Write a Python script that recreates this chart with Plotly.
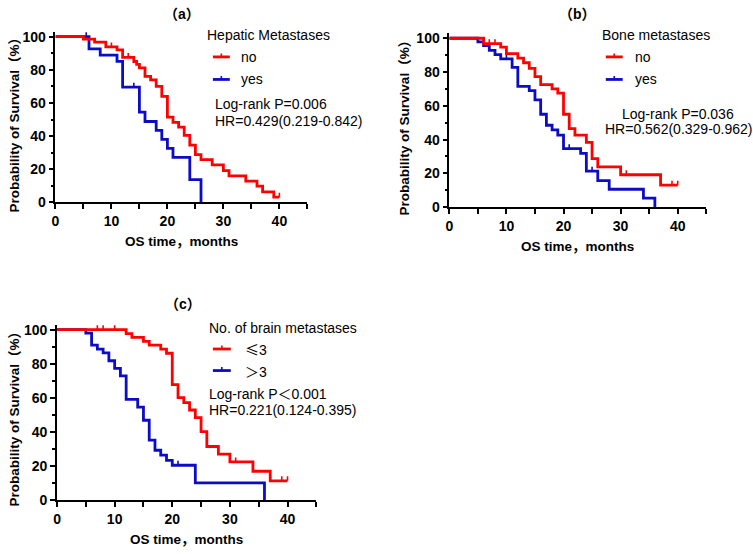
import plotly.graph_objects as go

# ---------------- data ----------------
# Panel (a) Hepatic metastases
a_no_t = [0, 5, 7, 9, 11, 12, 14, 14.5, 15, 16, 17, 18, 19, 20, 21, 22, 23, 24, 25, 26, 28, 30, 31, 34, 36, 37, 39, 40]
a_no_s = [100, 98.5, 96.7, 93.8, 92, 87.5, 85, 83.2, 81.2, 76, 73.9, 70, 64, 51.5, 48.3, 45.4, 40.4, 34.6, 28.8, 25.8, 22.7, 19.2, 16, 12.9, 9.8, 6.4, 3.2, 3.2]
a_no_cens_t = [10, 13, 40]
a_no_cens_s = [93.8, 87.5, 3.2]
a_yes_t = [0, 6, 8, 11, 12, 15, 16, 18, 19, 20, 21, 24, 26]
a_yes_s = [100, 92.6, 88.8, 85.1, 69.5, 54.5, 48.8, 43.4, 38, 32.6, 27.2, 13.8, 0]
a_yes_cens_t = [5.5, 14]
a_yes_cens_s = [100, 69.5]

# Panel (b) Bone metastases
b_no_t = [0, 6, 9, 10, 12, 13, 14, 15, 16, 18, 19, 20, 21, 22, 24, 25, 26, 30, 37, 40]
b_no_s = [100, 96.8, 94.8, 90.9, 88.2, 85.5, 82.2, 77.3, 72.5, 70, 67.5, 55, 46.5, 42.6, 38.3, 28.7, 23.9, 19.2, 13, 13]
b_no_cens_t = [7, 8, 31, 39, 40]
b_no_cens_s = [96.8, 96.8, 19.2, 13, 13]
b_yes_t = [0, 5, 6, 7, 8, 9, 11, 12, 14, 15, 16, 17, 18, 19, 20, 23, 24, 26, 28, 34, 36]
b_yes_s = [100, 97.8, 95.6, 92.8, 90.3, 87.8, 82.8, 71.5, 69, 63.5, 55, 48.5, 45.8, 42.6, 34.6, 31.8, 21.3, 15.7, 10.6, 5.3, 0]
b_yes_cens_t = [10, 21, 25]
b_yes_cens_s = [87.8, 34.6, 21.3]

# Panel (c) Number of brain metastases
c_le3_t = [0, 12, 13, 15, 16, 18, 19, 20, 21, 22, 23, 24, 25, 26, 28, 30, 34, 37, 40]
c_le3_s = [100, 97.7, 95.5, 93.2, 90.9, 88.6, 86.2, 67.8, 60.2, 57.2, 52.9, 48.4, 40.2, 31.5, 27, 22.5, 17, 11.4, 11.4]
c_le3_cens_t = [7, 8, 10, 31, 39, 40]
c_le3_cens_s = [100, 100, 100, 22.5, 11.4, 11.4]
c_gt3_t = [0, 5, 6, 7, 8, 9, 10, 11, 12, 14, 15, 16, 17, 18, 19, 20, 24, 36]
c_gt3_s = [100, 98, 90.9, 88.6, 86.4, 81.8, 77.3, 72.9, 59.2, 54.6, 46.9, 35.2, 29.3, 26.4, 23.4, 20.5, 10.2, 0]
c_gt3_cens_t = [21]
c_gt3_cens_s = [20.5]

x_ticks = [0, 10, 20, 30, 40]
y_ticks = [0, 20, 40, 60, 80, 100]

CJK = "<span style='font-family:Noto Sans CJK SC'>{}</span>"
panel_titles = [CJK.format("（") + "a" + CJK.format("）"),
                CJK.format("（") + "b" + CJK.format("）"),
                CJK.format("（") + "c" + CJK.format("）")]
legend_titles = ["Hepatic Metastases", "Bone metastases", "No. of brain metastases"]
group_labels = [["no", "yes"], ["no", "yes"], [CJK.format("≤") + "3", CJK.format("＞") + "3"]]
stat_lines = [["Log-rank P=0.006", "HR=0.429(0.219-0.842)"],
              ["Log-rank P=0.036", "HR=0.562(0.329-0.962)"],
              ["Log-rank P" + CJK.format("＜") + "0.001", "HR=0.221(0.124-0.395)"]]
x_title = "OS time" + CJK.format("，") + "months"
y_title = "Probability of Survival" + CJK.format("（") + "%" + CJK.format("）")

RED = "#ff0000"
BLUE = "#0c0cc4"
FONT = "Liberation Sans, Arial, Noto Sans CJK SC, sans-serif"
W, H = 753, 554


def px(x):
    return x / W


def py(y):
    return 1 - y / H


fig = go.Figure()

panels = [
    (a_no_t, a_no_s, a_no_cens_t, a_no_cens_s, a_yes_t, a_yes_s, a_yes_cens_t, a_yes_cens_s),
    (b_no_t, b_no_s, b_no_cens_t, b_no_cens_s, b_yes_t, b_yes_s, b_yes_cens_t, b_yes_cens_s),
    (c_le3_t, c_le3_s, c_le3_cens_t, c_le3_cens_s, c_gt3_t, c_gt3_s, c_gt3_cens_t, c_gt3_cens_s),
]

# pixel geometry: (x0 px, x45 px, y0 px, y103 px)
geom = [
    (51.7, 305.0, 203.5, 29.2),
    (447.7, 706.0, 208.3, 30.8),
    (53.3, 314.0, 507.3, 328.1),
]

for i, (p, g) in enumerate(zip(panels, geom)):
    xa = "x" if i == 0 else f"x{i+1}"
    ya = "y" if i == 0 else f"y{i+1}"
    t1, s1, ct1, cs1, t2, s2, ct2, cs2 = p
    for t, s, ct, cs, col in [(t2, s2, ct2, cs2, BLUE), (t1, s1, ct1, cs1, RED)]:
        fig.add_trace(go.Scatter(x=t, y=s, mode="lines", line=dict(color=col, width=2.8, shape="hv"),
                                 xaxis=xa, yaxis=ya, showlegend=False, hoverinfo="skip"))
        fig.add_trace(go.Scatter(x=ct, y=cs, mode="markers",
                                 marker=dict(size=1, color=col, opacity=0),
                                 error_y=dict(type="constant", symmetric=False, value=2.6, valueminus=0,
                                              width=0, thickness=1.6, color=col),
                                 xaxis=xa, yaxis=ya, showlegend=False, hoverinfo="skip"))
    x0, x45, y0, y103 = g
    axkey = "xaxis" if i == 0 else f"xaxis{i+1}"
    aykey = "yaxis" if i == 0 else f"yaxis{i+1}"
    fig.update_layout(**{
        axkey: dict(domain=[px(x0), px(x45)], range=[0, 45], anchor=ya,
                    tickvals=x_ticks, ticks="outside", ticklen=5, tickwidth=1.5, tickcolor="black",
                    showline=True, linecolor="black", linewidth=1.6, showgrid=False, zeroline=False,
                    tickfont=dict(family=FONT, size=14, color="black", weight="bold"),
                    minor=dict(tickvals=[5, 15, 25, 35, 45], ticks="outside", ticklen=5, tickwidth=1.5,
                               tickcolor="black", showgrid=False)),
        aykey: dict(domain=[py(y0), py(y103)], range=[0, 103], anchor=xa,
                    tickvals=y_ticks, ticks="outside", ticklen=5, tickwidth=1.5, tickcolor="black",
                    showline=True, linecolor="black", linewidth=1.6, showgrid=False, zeroline=False,
                    tickfont=dict(family=FONT, size=14, color="black", weight="bold"),
                    minor=dict(tickvals=[10, 30, 50, 70, 90], ticks="outside", ticklen=3, tickwidth=1.5,
                               tickcolor="black", showgrid=False)),
    })

annotations = []
shapes = []


def ann(text, x, y, size=14, bold=False, xanchor="center", angle=0):
    annotations.append(dict(text=text, x=px(x), y=py(y), xref="paper", yref="paper",
                            xanchor=xanchor, yanchor="middle", showarrow=False, textangle=angle,
                            font=dict(family=FONT, size=size, color="black",
                                      weight="bold" if bold else "normal")))


# panel titles
ann(panel_titles[0], 179, 10, size=14, bold=True)
ann(panel_titles[1], 577, 10, size=14, bold=True)
ann(panel_titles[2], 180, 306, size=14, bold=True)

# axis titles
ann(x_title, 178, 242, size=13.5, bold=True)
ann(x_title, 577, 247, size=13.5, bold=True)
ann(x_title, 183, 546, size=13.5, bold=True)
ann(y_title, 9, 121, size=13.5, bold=True, angle=-90)
ann(y_title, 401, 124, size=13.5, bold=True, angle=-90)
ann(y_title, 9, 421, size=13.5, bold=True, angle=-90)

# legends: (title x, title y, line x0, line x1, row1 y, row2 y, text x)
leg = [(202, 33, 210, 227, 55, 78, 236),
       (599, 33, 605, 622, 55, 78, 632),
       (204, 332, 210, 228, 353, 375, 240)]
for i, (tx, ty, lx0, lx1, r1, r2, txx) in enumerate(leg):
    ann(legend_titles[i], tx, ty, size=14, xanchor="left")
    for r, col, lab in [(r1, RED, group_labels[i][0]), (r2, BLUE, group_labels[i][1])]:
        shapes.append(dict(type="line", xref="paper", yref="paper", x0=px(lx0), x1=px(lx1),
                           y0=py(r), y1=py(r), line=dict(color=col, width=2.8)))
        mid = (lx0 + lx1) / 2
        shapes.append(dict(type="line", xref="paper", yref="paper", x0=px(mid), x1=px(mid),
                           y0=py(r - 3.5), y1=py(r), line=dict(color=col, width=1.6)))
        ann(lab, txx, r, size=14, xanchor="left")

# statistics text
ann(stat_lines[0][0], 210, 103, xanchor="left")
ann(stat_lines[0][1], 210, 120, xanchor="left")
ann(stat_lines[1][0], 678, 113)
ann(stat_lines[1][1], 679, 129)
ann(stat_lines[2][0], 204, 398, xanchor="left")
ann(stat_lines[2][1], 204, 415, xanchor="left")

fig.update_layout(width=W, height=H, margin=dict(l=0, r=0, t=0, b=0),
                  paper_bgcolor="white", plot_bgcolor="white",
                  annotations=annotations, shapes=shapes, showlegend=False,
                  font=dict(family=FONT))

fig.write_html("out.html", config={"displayModeBar": False},
               post_script="document.body.style.margin='0';document.body.style.overflow='hidden';")
